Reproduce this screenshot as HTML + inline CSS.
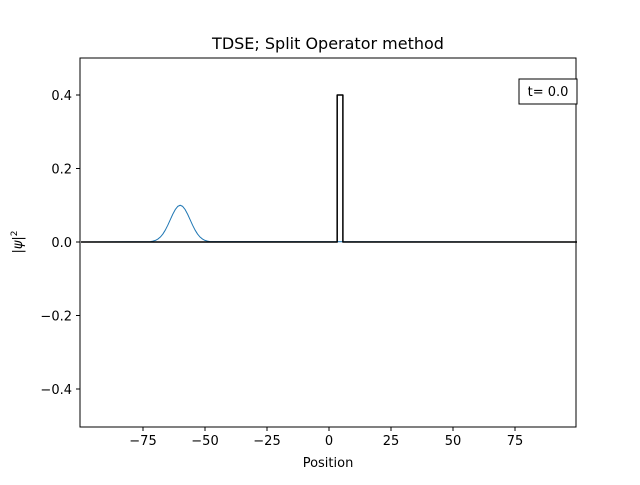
<!DOCTYPE html>
<html><head><meta charset="utf-8"><style>
body{margin:0;background:#fff;font-family:"Liberation Sans","DejaVu Sans",sans-serif}
</style></head><body>
<svg width="640" height="480" xmlns="http://www.w3.org/2000/svg" font-family="DejaVu Sans, Liberation Sans, sans-serif">
<rect width="640" height="480" fill="#fff"/>
<text x="328" y="49" font-size="16" text-anchor="middle">TDSE; Split Operator method</text>
<g id="plot"></g>
<rect x="80" y="58" width="496" height="369" fill="none" stroke="#000" stroke-width="1"/>
<g id="xt"></g><g id="yt"></g>
<text x="328" y="467" font-size="13" text-anchor="middle">Position</text>
<text transform="translate(22,242) rotate(-90)" font-size="13" text-anchor="middle">|<tspan font-style="italic">ψ</tspan>|<tspan font-size="9" dy="-5">2</tspan></text>
<rect x="519" y="79" width="58" height="25" fill="#fff" stroke="#000"/>
<text x="548" y="96" font-size="13" text-anchor="middle">t= 0.0</text>
</svg>
<script>
const xTicks=[-75,-50,-25,0,25,50,75];
const yTicks=[-0.4,-0.2,0.0,0.2,0.4];
const waveX=[-100,-72,-71,-70,-69,-68,-67,-66,-65,-64,-63,-62,-61,-60,-59,-58,-57,-56,-55,-54,-53,-52,-51,-50,-49,-48,100];
const waveY=[0,0.0011,0.0023,0.0044,0.0080,0.0135,0.0216,0.0325,0.0458,0.0607,0.0755,0.0882,0.0969,0.1,0.0969,0.0882,0.0755,0.0607,0.0458,0.0325,0.0216,0.0135,0.0080,0.0044,0.0023,0.0011,0];
const potX=[-100,3.3,3.3,5.6,5.6,100];
const potY=[0,0,0.4,0.4,0,0];
const sx=v=>329+v*2.48, sy=v=>242-v*367.5;
const NS="http://www.w3.org/2000/svg";
const plot=document.getElementById('plot');
function line(xs,ys,col,w,name){const p=document.createElementNS(NS,'polyline');
p.setAttribute('points',xs.map((x,i)=>sx(x)+','+sy(ys[i])).join(' '));
p.setAttribute('fill','none');p.setAttribute('stroke',col);p.setAttribute('stroke-width',w);p.setAttribute('stroke-linejoin','round');


plot.appendChild(p);}
line(waveX,waveY,'#1f77b4',1,'wavefunction-line');
line(potX,potY,'#000',1.5,'potential-line');
const xt=document.getElementById('xt');
xTicks.forEach(v=>{const x=sx(v);
const l=document.createElementNS(NS,'line');l.setAttribute('x1',x);l.setAttribute('x2',x);l.setAttribute('y1',427);l.setAttribute('y2',431);l.setAttribute('stroke','#000');


xt.appendChild(l);
const t=document.createElementNS(NS,'text');t.setAttribute('x',x);t.setAttribute('y',445);t.setAttribute('font-size','13');t.setAttribute('text-anchor','middle');t.textContent=v<0?'−'+(-v):v;


xt.appendChild(t);});
const yt=document.getElementById('yt');
yTicks.forEach(v=>{const y=sy(v);
const l=document.createElementNS(NS,'line');l.setAttribute('x1',76);l.setAttribute('x2',80);l.setAttribute('y1',y);l.setAttribute('y2',y);l.setAttribute('stroke','#000');


yt.appendChild(l);
const t=document.createElementNS(NS,'text');t.setAttribute('x',72);t.setAttribute('y',y+5);t.setAttribute('font-size','13');t.setAttribute('text-anchor','end');t.textContent=(v<0?'−':'')+Math.abs(v).toFixed(1);


yt.appendChild(t);});
</script>
</body></html>
